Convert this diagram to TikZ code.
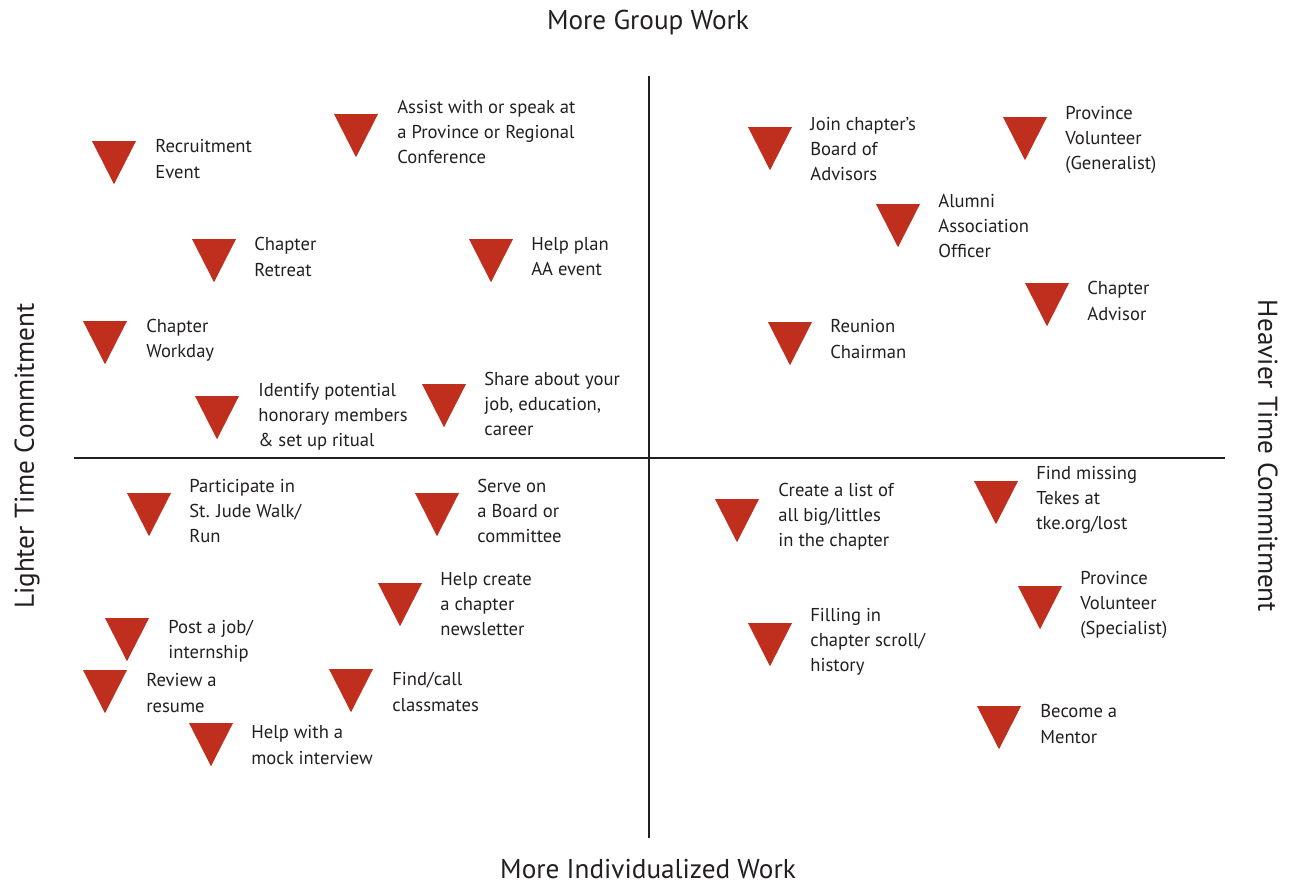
\documentclass[tikz,border=0pt]{standalone}
\usepackage{fontspec}
\setmainfont{PT Sans}
\usetikzlibrary{positioning,shapes.geometric}
\definecolor{tkered}{RGB}{192,46,30}
\definecolor{inkgray}{RGB}{35,31,32}

\begin{document}
\begin{tikzpicture}[
  x=0.02cm, y=-0.02cm,
  every node/.style={text=inkgray},
  tmark/.style={isosceles triangle, isosceles triangle apex angle=54,
               shape border rotate=270, fill=tkered, draw=none,
               inner sep=0pt, minimum size=0.86cm, anchor=apex},
  lbl/.style ={font=\fontsize{10.6}{14.3}\selectfont, align=left,
               inner sep=0pt, anchor=west},
  axlbl/.style={font=\fontsize{15.5}{18}\selectfont, inner sep=0pt},
  axis/.style={draw=inkgray, line width=1.15pt}]

\useasboundingbox (0,0) rectangle (1291,886);

%% -- Axes -------------------------------------------------------------
\coordinate (vtop) at (649,76);
\coordinate (vbot) at (649,838);
\coordinate (hlft) at (74,458);
\coordinate (hrgt) at (1225,458);
\draw[axis] (vtop) -- (vbot);
\draw[axis] (hlft) -- (hrgt);

\node[axlbl] (groupw) at (648,23)  {More Group Work};
\node[axlbl] (indivw) at (648,869) {More Individualized Work};
\node[axlbl, rotate=90]  (lighter) at (27,456)   {Lighter Time Commitment};
\node[axlbl, rotate=-90] (heavier) at (1268,456) {Heavier Time Commitment};

%% -- Top left ---------------------------------------------------------
\node[tmark] (recruit) at (114,185) {};
\node[lbl, right=0.82cm of recruit.apex, yshift=0.52cm] (recruitT) {Recruitment\\Event};
\node[tmark] (assist) at (356,158) {};
\node[lbl, right=0.82cm of assist.apex, yshift=0.52cm] (assistT) {Assist with or speak at\\a Province or Regional\\Conference};
\node[tmark] (retreat) at (214,283) {};
\node[lbl, right=0.8cm of retreat.apex, yshift=0.52cm] (retreatT) {Chapter\\Retreat};
\node[tmark] (aaevent) at (491,283) {};
\node[lbl, right=0.8cm of aaevent.apex, yshift=0.52cm] (aaeventT) {Help plan\\AA event};
\node[tmark] (workday) at (105,365) {};
\node[lbl, right=0.82cm of workday.apex, yshift=0.5cm] (workdayT) {Chapter\\Workday};
\node[tmark] (honor) at (217,440) {};
\node[lbl, right=0.82cm of honor.apex, yshift=0.46cm] (honorT) {Identify potential\\honorary members\\\& set up ritual};
\node[tmark] (share) at (444,428) {};
\node[lbl, right=0.8cm of share.apex, yshift=0.48cm] (shareT) {Share about your\\job, education,\\career};

%% -- Bottom left ------------------------------------------------------
\node[tmark] (stjude) at (149,537) {};
\node[lbl, right=0.8cm of stjude.apex, yshift=0.52cm] (stjudeT) {Participate in\\St. Jude Walk/\\Run};
\node[tmark] (board) at (437,537) {};
\node[lbl, right=0.8cm of board.apex, yshift=0.52cm] (boardT) {Serve on\\a Board or\\committee};
\node[tmark] (newsl) at (400,627) {};
\node[lbl, right=0.8cm of newsl.apex, yshift=0.46cm] (newslT) {Help create\\a chapter\\newsletter};
\node[tmark] (postjob) at (127,662) {};
\node[lbl, right=0.82cm of postjob.apex, yshift=0.42cm] (postjobT) {Post a job/\\internship};
\node[tmark] (resume) at (105,714) {};
\node[lbl, right=0.82cm of resume.apex, yshift=0.42cm] (resumeT) {Review a\\resume};
\node[tmark] (classm) at (351,713) {};
\node[lbl, right=0.82cm of classm.apex, yshift=0.42cm] (classmT) {Find/call\\classmates};
\node[tmark] (mockint) at (211,767) {};
\node[lbl, right=0.8cm of mockint.apex, yshift=0.44cm] (mockintT) {Help with a\\mock interview};

%% -- Top right --------------------------------------------------------
\node[tmark] (advboard) at (770,171) {};
\node[lbl, right=0.8cm of advboard.apex, yshift=0.44cm] (advboardT) {Join chapter's\\Board of\\Advisors};
\node[tmark] (provgen) at (1025,161) {};
\node[lbl, right=0.8cm of provgen.apex, yshift=0.42cm] (provgenT) {Province\\Volunteer\\(Generalist)};
\node[tmark] (alumni) at (898,248) {};
\node[lbl, right=0.8cm of alumni.apex, yshift=0.44cm] (alumniT) {Alumni\\Association\\Officer};
\node[tmark] (advisor) at (1047,327) {};
\node[lbl, right=0.8cm of advisor.apex, yshift=0.52cm] (advisorT) {Chapter\\Advisor};
\node[tmark] (reunion) at (790,366) {};
\node[lbl, right=0.8cm of reunion.apex, yshift=0.54cm] (reunionT) {Reunion\\Chairman};

%% -- Bottom right -----------------------------------------------------
\node[tmark] (biglit) at (737,543) {};
\node[lbl, right=0.82cm of biglit.apex, yshift=0.52cm] (biglitT) {Create a list of\\all big/littles\\in the chapter};
\node[tmark] (missing) at (996,525) {};
\node[lbl, right=0.8cm of missing.apex, yshift=0.5cm] (missingT) {Find missing\\Tekes at\\tke.org/lost};
\node[tmark] (provspec) at (1040,630) {};
\node[lbl, right=0.8cm of provspec.apex, yshift=0.5cm] (provspecT) {Province\\Volunteer\\(Specialist)};
\node[tmark] (scroll) at (770,667) {};
\node[lbl, right=0.8cm of scroll.apex, yshift=0.5cm] (scrollT) {Filling in\\chapter scroll/\\history};
\node[tmark] (mentor) at (999,750) {};
\node[lbl, right=0.82cm of mentor.apex, yshift=0.52cm] (mentorT) {Become a\\Mentor};
\end{tikzpicture}
\end{document}
